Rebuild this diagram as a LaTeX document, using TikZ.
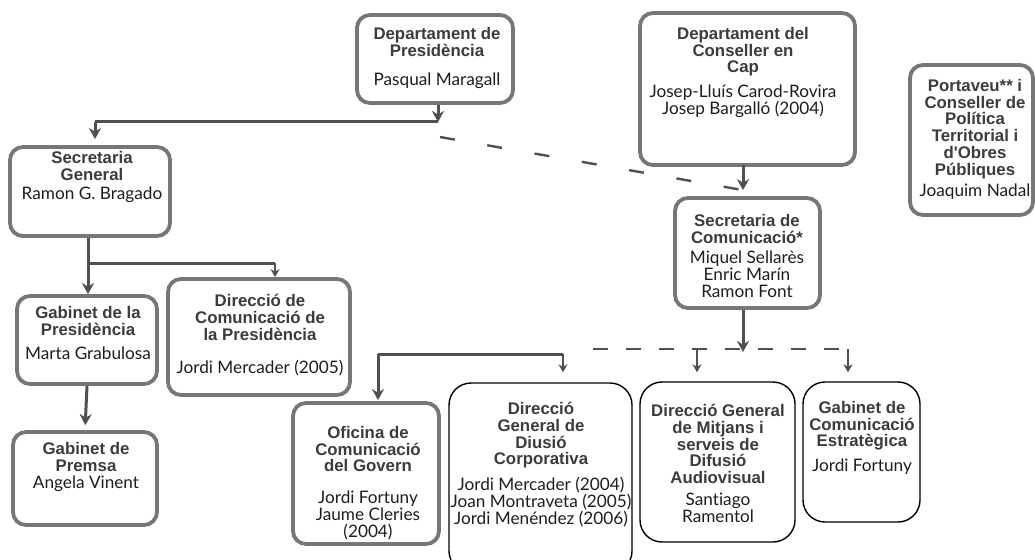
\documentclass[tikz,border=0pt]{standalone}
\usepackage{fontspec}
\setmainfont{Lato}[Ligatures=NoCommon]
\setsansfont{Liberation Sans}
\usetikzlibrary{arrows.meta}
\definecolor{boxgray}{HTML}{777777}
\definecolor{linegray}{HTML}{505050}
\definecolor{headgray}{HTML}{3C3C3C}
\definecolor{namegray}{HTML}{1E1E1E}
\newcommand{\nm}[1]{{\rmfamily\mdseries\fontsize{17.2}{16.8}\selectfont\color{namegray}#1}}
\begin{document}
\begin{tikzpicture}[x=1pt,y=-1pt,
	graybox/.style={draw=boxgray,line width=3.8pt,rounded corners=13pt},
	inkbox/.style={draw=black,line width=1.4pt,rounded corners=22pt},
	boxtext/.style={anchor=north,align=center,inner sep=0pt,
	  font=\fontsize{16.8}{16.8}\selectfont\sffamily\bfseries\color{headgray}},
	line/.style={draw=linegray,line width=3pt},
	conn/.style={line,-{Stealth[length=11pt,width=12pt]}},
	smallconn/.style={draw=linegray,line width=2.4pt,-{Stealth[length=8pt,width=9pt]}},
	dashline/.style={draw=linegray,line width=2.4pt,dash pattern=on 15pt off 33pt}]
	%canvas
	\useasboundingbox (0,0) rectangle (1035,559);
	\fill[white] (0,0) rectangle (1035,559);
	\clip (0,0) rectangle (1035,559);
	
	%boxes top row
	\node[graybox,minimum width=156pt,minimum height=88pt] (pres) at (435,59) {}; %Presidencia
	\node[graybox,minimum width=215pt,minimum height=152pt] (cons) at (747.5,89) {}; %Conseller en Cap
	\node[graybox,minimum width=123pt,minimum height=150pt] (port) at (971.5,140) {}; %Portaveu
	\node[graybox,minimum width=160pt,minimum height=89pt] (secg) at (90,191.5) {}; %Secretaria General
	\node[graybox,minimum width=145pt,minimum height=110pt] (secc) at (747.5,253) {}; %Secretaria Comunicacio
	
	%boxes lower rows
	\node[graybox,minimum width=140pt,minimum height=88pt] (gabp) at (87,340) {}; %Gabinet Presidencia
	\node[graybox,minimum width=182pt,minimum height=116pt] (dcp) at (259,337) {}; %Direccio Comunicacio
	\node[graybox,minimum width=144pt,minimum height=93pt] (prem) at (85,478.5) {}; %Gabinet Premsa
	\node[graybox,minimum width=146pt,minimum height=141pt] (ofic) at (366,473.5) {}; %Oficina Govern
	\node[inkbox,minimum width=183pt,minimum height=190pt] (dgdc) at (540.5,478) {}; %DG Difusio Corporativa
	\node[inkbox,minimum width=155pt,minimum height=160pt] (dgm) at (717.5,462) {}; %DG Mitjans
	\node[inkbox,minimum width=117pt,minimum height=140pt] (gce) at (861.5,452) {}; %Gabinet Estrategica
	
	%texts
	\node[boxtext] (presT) at (437,27) {Departament de\\Presidència\\[13pt]\nm{Pasqual Maragall}};
	\node[boxtext] (consT) at (743,27) {Departament del\\Conseller en\\Cap\\[8pt]\nm{Josep-Lluís Carod-Rovira}\\\nm{Josep Bargalló (2004)}};
	\node[boxtext] (portT) at (975,79) {Portaveu** i\\Conseller de\\Política\\Territorial i\\d\textquotesingle Obres\\Públiques\\[4pt]\nm{Joaquim Nadal}};
	\node[boxtext] (secgT) at (92,151) {Secretaria\\General\\[3pt]\nm{Ramon G. Bragado}};
	\node[boxtext] (seccT) at (747,214) {Secretaria de\\Comunicació*\\[4pt]\nm{Miquel Sellarès}\\\nm{Enric Marín}\\\nm{Ramon Font}};
	\node[boxtext] (gabpT) at (88,306) {Gabinet de la\\Presidència\\[8pt]\nm{Marta Grabulosa}};
	\node[boxtext] (dcpT) at (260,294) {Direcció de\\Comunicació de\\la Presidència\\[17pt]\nm{Jordi Mercader (2005)}};
	\node[boxtext] (premT) at (86,442) {Gabinet de\\Premsa\\[1pt]\nm{Angela Vinent}};
	\node[boxtext] (oficT) at (368,426) {Oficina de\\Comunicació\\del Govern\\[15pt]\nm{Jordi Fortuny}\\\nm{Jaume Cleries}\\\nm{(2004)}};
	\node[boxtext] (dgdcT) at (541,402) {Direcció\\General de\\Diusió\\Corporativa\\[8pt]\nm{Jordi Mercader (2004)}\\\nm{Joan Montraveta (2005)}\\\nm{Jordi Menéndez (2006)}};
	\node[boxtext] (dgmT) at (718,404) {Direcció General\\de Mitjans i\\serveis de\\Difusió\\Audiovisual\\[5pt]\nm{Santiago}\\\nm{Ramentol}};
	\node[boxtext] (gceT) at (862,401) {Gabinet de\\Comunicació\\Estratègica\\[8pt]\nm{Jordi Fortuny}};
	
	%junctions
	\coordinate (presJ) at (438,122);
	\coordinate (secgJ) at (95,122);
	\coordinate (presD) at (440,137);
	\coordinate (consJ) at (743,165);
	\coordinate (gabpJ) at (88,263);
	\coordinate (dcpJ) at (275,263);
	\coordinate (seccJ) at (743,352);
	\coordinate (oficJ) at (378,354);
	\coordinate (dgdcJ) at (563,354);
	\coordinate (dashL) at (593,349);
	\coordinate (dashR) at (845,349);
	\coordinate (dgmJ) at (697,349);
	\coordinate (gceJ) at (848,349);
	
	%connectors
	\draw[conn] (pres.south -| presJ) -- (presJ); %pres down
	\draw[line] (presJ) -- (secgJ); %pres branch
	\draw[conn,shorten >=6pt] (secgJ) -- (secg.north -| secgJ); %to secg
	\draw[dashline] (presD) -- ([yshift=6pt]secc.north -| consJ); %dashed to secc
	\draw[conn,shorten >=6pt] (consJ) -- (secc.north -| consJ); %cons down
	\draw[conn] (secg.south -| gabpJ) -- (gabp.north -| gabpJ); %secg down
	\draw[line] (gabpJ) -- (dcpJ); %secg branch
	\draw[smallconn,shorten >=-3pt] (dcpJ) -- ([yshift=3pt]dcp.north -| dcpJ); %to dcp
	\draw[conn,shorten >=5pt] (gabp.south) -- (prem.north); %gabp down
	\draw[conn] (secc.south -| seccJ) -- (seccJ); %secc down
	\draw[line] (oficJ) -- (dgdcJ); %solid branch
	\draw[conn,shorten >=1pt] (oficJ) -- (ofic.north -| oficJ); %to ofic
	\draw[smallconn,shorten >=10pt] (dgdcJ) -- (dgdc.north -| dgdcJ); %to dgdc
	\draw[dashline,dash pattern=on 15pt off 18pt] (dashL) -- (dashR); %dashed branch
	\draw[smallconn,shorten >=9pt] (dgmJ) -- (dgm.north -| dgmJ); %to dgm
	\draw[smallconn,shorten >=9pt] (gceJ) -- (gce.north -| gceJ); %to gce
	
\end{tikzpicture}
\end{document}
